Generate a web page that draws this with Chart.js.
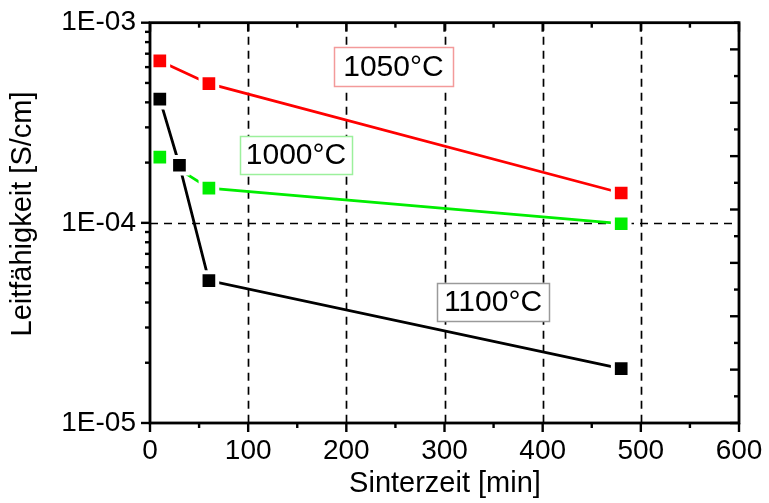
<!DOCTYPE html>
<html>
<head>
<meta charset="utf-8">
<script src="https://cdn.jsdelivr.net/npm/chart.js@4.4.1/dist/chart.umd.min.js"></script>
<style>
  html, body { margin: 0; padding: 0; background: #fff; }
  #wrap { width: 769px; height: 503px; }
</style>
</head>
<body>
<div id="wrap"><canvas id="c" width="769" height="503"></canvas></div>
<script>
// Sintertemperaturen
const seriesNames = ['1100°C', '1000°C', '1050°C'];
const seriesColors = ['#000000', '#00ee00', '#ff0000'];

// Sinterzeit [min]
const time1100 = [10, 30, 60, 480];
const time1000 = [10, 60, 480];
const time1050 = [10, 60, 480];

// Leitfähigkeit [S/cm]
const cond1100 = [4.15e-4, 1.94e-4, 5.15e-5, 1.87e-5];
const cond1000 = [2.13e-4, 1.49e-4, 9.9e-5];
const cond1050 = [6.44e-4, 4.96e-4, 1.41e-4];

// Achsenbeschriftungen
const xTickValues = [0, 100, 200, 300, 400, 500, 600];
const yTickValues = [1e-5, 1e-4, 1e-3];
const xTitle = 'Sinterzeit [min]';
const yTitle = 'Leitfähigkeit [S/cm]';

// Beschriftungskästen (Ort in Datenkoordinaten)
const labelBoxes = [
  { text: '1050°C', x: 248, y: 6.04e-4, w: 119, h: 39, border: '#f39a9a' },
  { text: '1000°C', x: 148.7, y: 2.19e-4, w: 112, h: 38, border: '#9cf09c' },
  { text: '1100°C', x: 349.4, y: 4.04e-5, w: 112, h: 38, border: '#9a9a9a' }
];

const FONT = '"Liberation Sans", Arial, sans-serif';

function pairs(xs, ys) { return xs.map((x, i) => ({ x: x, y: ys[i] })); }

function fmtExp(v) {
  const e = Math.round(Math.log10(v));
  const s = Math.abs(e).toString().padStart(2, '0');
  return '1E' + (e < 0 ? '-' : '+') + s;
}

function makeSeries(name, color, xs, ys) {
  return {
    label: name,
    data: pairs(xs, ys),
    borderColor: color,
    backgroundColor: color,
    borderWidth: 2.8,
    pointStyle: 'rect',
    pointRadius: 11.8,
    pointBackgroundColor: color,
    pointBorderColor: '#ffffff',
    pointBorderWidth: 4,
    tension: 0,
    fill: false
  };
}

// feste Achsenmaße, ohne zusätzlichen Rand für überstehende Beschriftungen
function fixBox(size, key) {
  return s => {
    s[key] = size;
    s.paddingTop = 0; s.paddingBottom = 0; s.paddingLeft = 0; s.paddingRight = 0;
  };
}

const frameAndGrid = {
  id: 'frameAndGrid',
  beforeDatasetsDraw(chart) {
    const ctx = chart.ctx, xs = chart.scales.x, ys = chart.scales.y;
    const a = chart.chartArea;
    ctx.save();
    ctx.strokeStyle = '#000';
    ctx.lineWidth = 1.7;
    ctx.setLineDash([8, 6]);
    [100, 200, 300, 400, 500].forEach(v => {
      const px = Math.round(xs.getPixelForValue(v)) + 0.5;
      ctx.beginPath(); ctx.moveTo(px, a.top); ctx.lineTo(px, a.bottom); ctx.stroke();
    });
    const py = Math.round(ys.getPixelForValue(1e-4)) + 0.5;
    ctx.beginPath(); ctx.moveTo(a.left, py); ctx.lineTo(a.right, py); ctx.stroke();
    ctx.restore();
  },
  afterDatasetsDraw(chart) {
    const ctx = chart.ctx, xs = chart.scales.x, ys = chart.scales.y;
    const a = chart.chartArea;
    ctx.save();
    ctx.strokeStyle = '#000';
    ctx.setLineDash([]);
    ctx.lineWidth = 2.4;
    const major = 9, minor = 5;
    function seg(x1, y1, x2, y2) { ctx.beginPath(); ctx.moveTo(x1, y1); ctx.lineTo(x2, y2); ctx.stroke(); }
    // x-Achse: unten nach außen, oben nach innen
    for (let v = 0; v <= 600; v += 50) {
      const px = xs.getPixelForValue(v);
      const len = (v % 100 === 0) ? major : minor;
      seg(px, a.bottom, px, a.bottom + len);
      seg(px, a.top, px, a.top + len);
    }
    // y-Achse links: logarithmische Teilung nach außen
    for (let d = -5; d <= -3; d++) {
      for (let m = 1; m <= 9; m++) {
        const v = m * Math.pow(10, d);
        if (v > 1e-3 * 1.0001) break;
        const p = ys.getPixelForValue(v);
        seg(a.left - (m === 1 ? major : minor), p, a.left, p);
      }
    }
    // y-Achse rechts: gleichmäßige Teilung nach innen
    for (let i = 0; i <= 15; i++) {
      const p = a.bottom - (a.bottom - a.top) * i / 15;
      seg(a.right - (i % 2 === 0 ? major : minor), p, a.right, p);
    }
    // Rahmen
    ctx.lineWidth = 2.8;
    ctx.strokeRect(a.left, a.top, a.right - a.left, a.bottom - a.top);

    // Beschriftungskästen
    ctx.font = '30px ' + FONT;
    ctx.textAlign = 'center';
    ctx.textBaseline = 'middle';
    labelBoxes.forEach(b => {
      const cx = xs.getPixelForValue(b.x), cy = ys.getPixelForValue(b.y);
      const l = Math.round(cx - b.w / 2) + 0.5, t = Math.round(cy - b.h / 2) + 0.5;
      ctx.fillStyle = '#fff';
      ctx.fillRect(l, t, b.w, b.h);
      ctx.lineWidth = 1.5;
      ctx.strokeStyle = b.border;
      ctx.strokeRect(l, t, b.w, b.h);
      ctx.fillStyle = '#000';
      ctx.fillText(b.text, cx, cy + 1);
    });
    ctx.restore();
  },
  afterDraw(chart) {
    const ctx = chart.ctx;
    ctx.save();
    ctx.fillStyle = '#000';
    ctx.font = '29px ' + FONT;
    ctx.textAlign = 'center';
    ctx.textBaseline = 'middle';
    ctx.fillText(xTitle, 445, 484);
    ctx.translate(23, 214);
    ctx.rotate(-Math.PI / 2);
    ctx.fillText(yTitle, 0, 0);
    ctx.restore();
  }
};

new Chart(document.getElementById('c'), {
  type: 'line',
  data: {
    datasets: [
      makeSeries(seriesNames[0], seriesColors[0], time1100, cond1100),
      makeSeries(seriesNames[1], seriesColors[1], time1000, cond1000),
      makeSeries(seriesNames[2], seriesColors[2], time1050, cond1050)
    ]
  },
  options: {
    responsive: false,
    animation: false,
    events: [],
    layout: { padding: { top: 22.7, right: 30, left: 0, bottom: 0 } },
    plugins: { legend: { display: false }, tooltip: { enabled: false } },
    scales: {
      x: {
        type: 'linear',
        min: 0, max: 600,
        afterBuildTicks: s => { s.ticks = xTickValues.map(v => ({ value: v })); },
        afterFit: fixBox(80, 'height'),
        ticks: { color: '#000', font: { family: FONT, size: 28 }, padding: 11, maxRotation: 0, autoSkip: false },
        grid: { display: true, drawOnChartArea: false, drawTicks: false, color: 'rgba(0,0,0,0)' },
        border: { display: false }
      },
      y: {
        type: 'logarithmic',
        min: 1e-5, max: 1e-3,
        afterBuildTicks: s => { s.ticks = yTickValues.map(v => ({ value: v })); },
        afterFit: fixBox(150, 'width'),
        ticks: { color: '#000', font: { family: FONT, size: 28 }, padding: 14, autoSkip: false, callback: v => fmtExp(v) },
        grid: { display: true, drawOnChartArea: false, drawTicks: false, color: 'rgba(0,0,0,0)' },
        border: { display: false }
      }
    }
  },
  plugins: [frameAndGrid]
});
</script>
</body>
</html>
